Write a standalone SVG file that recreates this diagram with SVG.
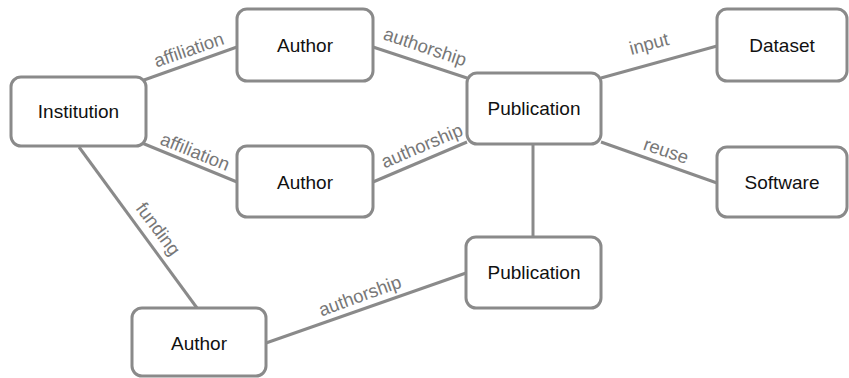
<svg xmlns="http://www.w3.org/2000/svg" width="849" height="378" viewBox="0 0 849 378">
<style>
.node rect{fill:#fff;stroke:#8a8a8a;stroke-width:3}
.node text{font-family:"Liberation Sans",Arial,sans-serif;font-size:19px;fill:#111;text-anchor:middle}
.edges line{stroke:#8a8a8a;stroke-width:3}
.lbl{font-family:"Liberation Sans",Arial,sans-serif;font-size:18.5px;fill:#777;text-anchor:middle}
</style>
<rect width="849" height="378" fill="#fff"/>
<g class="edges" id="connectors">
<line x1="144" y1="80" x2="237" y2="47"/>
<line x1="142" y1="143" x2="237" y2="182"/>
<line x1="373" y1="47" x2="467" y2="78"/>
<line x1="373" y1="182" x2="467" y2="142"/>
<line x1="601" y1="78" x2="717" y2="46"/>
<line x1="601" y1="142" x2="717" y2="183"/>
<line x1="533" y1="144" x2="533" y2="237"/>
<line x1="79" y1="147" x2="197" y2="308"/>
<line x1="266" y1="343" x2="466" y2="273"/>
<text class="lbl" transform="translate(189,50) rotate(-19)" y="6">affiliation</text>
<text class="lbl" transform="translate(195,152) rotate(22)" y="6">affiliation</text>
<text class="lbl" transform="translate(425,47) rotate(18.6)" y="6">authorship</text>
<text class="lbl" transform="translate(422,146) rotate(-23)" y="6">authorship</text>
<text class="lbl" transform="translate(649,44) rotate(-15)" y="6">input</text>
<text class="lbl" transform="translate(666,151) rotate(19)" y="6">reuse</text>
<text class="lbl" transform="translate(158,229) rotate(53)" y="6">funding</text>
<text class="lbl" transform="translate(360,296) rotate(-20)" y="6">authorship</text>
</g>
<g class="node" id="institution"><rect x="11" y="77" width="135" height="69" rx="10"/><text x="78.5" y="118">Institution</text></g>
<g class="node" id="author1"><rect x="237" y="9" width="136" height="72" rx="10"/><text x="305" y="52">Author</text></g>
<g class="node" id="author2"><rect x="237" y="146" width="136" height="71" rx="10"/><text x="305" y="189">Author</text></g>
<g class="node" id="publication1"><rect x="467" y="73" width="134" height="71" rx="10"/><text x="534" y="115">Publication</text></g>
<g class="node" id="dataset"><rect x="717" y="9" width="130" height="72" rx="10"/><text x="782" y="52">Dataset</text></g>
<g class="node" id="software"><rect x="717" y="147" width="130" height="70" rx="10"/><text x="782" y="189">Software</text></g>
<g class="node" id="publication2"><rect x="466" y="237" width="135" height="71" rx="10"/><text x="534" y="279">Publication</text></g>
<g class="node" id="author3"><rect x="132" y="308" width="134" height="68" rx="10"/><text x="199" y="350">Author</text></g>
</svg>
